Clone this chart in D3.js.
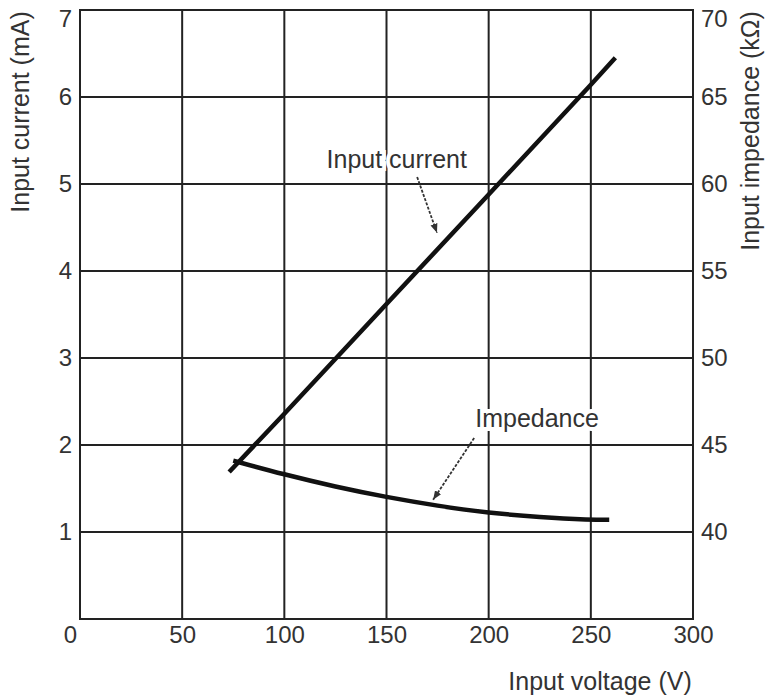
<!DOCTYPE html>
<html>
<head>
<meta charset="utf-8">
<script src="https://cdn.jsdelivr.net/npm/d3@7"></script>
<style>
  body { margin: 0; background: #fff; }
  svg text { font-family: "Liberation Sans", Arial, sans-serif; fill: #333; }
</style>
</head>
<body>
<svg width="765" height="699"></svg>
<script>
// chart data
var xTicks = [0, 50, 100, 150, 200, 250, 300];
var yTicks = [1, 2, 3, 4, 5, 6, 7];
var rTicks = [40, 45, 50, 55, 60, 65, 70];

var currentV = [73, 100, 150, 200, 250, 262];
var currentMA = [1.69, 2.36, 3.62, 4.88, 6.14, 6.45];

var impV = [75, 100, 125, 150, 175, 200, 225, 250, 259];
var impK = [44.1, 43.3, 42.6, 42.0, 41.5, 41.1, 40.85, 40.7, 40.7];

var svg = d3.select("svg"),
    margin = {top: 10, right: 72, bottom: 80, left: 80},
    width = svg.attr("width") - margin.left - margin.right,
    height = svg.attr("height") - margin.top - margin.bottom;

var x = d3.scaleLinear().domain([0, 300]).range([0, width]);
var y = d3.scaleLinear().domain([0, 7]).range([height, 0]);
var yR = d3.scaleLinear().domain([35, 70]).range([height, 0]);

var g = svg.append("g")
    .attr("transform", "translate(" + margin.left + "," + margin.top + ")");

// grid
g.append("g").selectAll("line").data(xTicks.slice(1, -1)).enter().append("line")
    .attr("x1", function(d) { return x(d); }).attr("x2", function(d) { return x(d); })
    .attr("y1", 0).attr("y2", height)
    .attr("stroke", "#222").attr("stroke-width", 2);

g.append("g").selectAll("line").data(yTicks.slice(0, -1)).enter().append("line")
    .attr("y1", function(d) { return y(d); }).attr("y2", function(d) { return y(d); })
    .attr("x1", 0).attr("x2", width)
    .attr("stroke", "#222").attr("stroke-width", 2);

g.append("rect")
    .attr("width", width).attr("height", height)
    .attr("fill", "none").attr("stroke", "#222").attr("stroke-width", 2);

// axes (labels only)
var xAxis = g.append("g")
    .attr("transform", "translate(0," + height + ")")
    .call(d3.axisBottom(x).tickValues(xTicks).tickSize(0).tickPadding(7).tickFormat(d3.format("d")));
xAxis.selectAll("text").filter(function(d) { return d === 0; }).attr("dx", -10);

var yAxis = g.append("g")
    .call(d3.axisLeft(y).tickValues(yTicks).tickSize(0).tickPadding(8).tickFormat(d3.format("d")));

var rAxis = g.append("g")
    .attr("transform", "translate(" + width + ",0)")
    .call(d3.axisRight(yR).tickValues(rTicks).tickSize(0).tickPadding(8).tickFormat(d3.format("d")));

[xAxis, yAxis, rAxis].forEach(function(a) {
  a.select(".domain").remove();
  a.selectAll("text").attr("font-size", 24).style("font-family", "'Liberation Sans', Arial, sans-serif").attr("fill", "#333");
});
// top labels sit a little lower so they are not cut off
yAxis.selectAll("text").filter(function(d) { return d === 7; }).attr("y", 9);
rAxis.selectAll("text").filter(function(d) { return d === 70; }).attr("y", 9);

// curves
var currentLine = d3.line()
    .x(function(d, i) { return x(currentV[i]); })
    .y(function(d) { return y(d); });

g.append("path")
    .datum(currentMA)
    .attr("d", currentLine)
    .attr("fill", "none").attr("stroke", "#111").attr("stroke-width", 4.5);

var impLine = d3.line()
    .curve(d3.curveBasis)
    .x(function(d, i) { return x(impV[i]); })
    .y(function(d) { return yR(d); });

g.append("path")
    .datum(impK)
    .attr("d", impLine)
    .attr("fill", "none").attr("stroke", "#111").attr("stroke-width", 4.5);

// annotations
svg.append("defs").append("marker")
    .attr("id", "arrow")
    .attr("viewBox", "0 0 10 10")
    .attr("refX", 10).attr("refY", 5)
    .attr("markerWidth", 5).attr("markerHeight", 5)
    .attr("markerUnits", "strokeWidth")
    .attr("orient", "auto")
  .append("path")
    .attr("d", "M0,1L10,5L0,9Z")
    .attr("fill", "#333");

var notes = [
  {text: "Input current", tx: 155, ty: 5.28, x1: 165, y1: 5.08, x2: 174.7, y2: 4.44},
  {text: "Impedance", tx: 223.7, ty: 2.31, x1: 192.9, y1: 2.08, x2: 172.8, y2: 1.37}
];

notes.forEach(function(n) {
  g.append("text")
      .attr("x", x(n.tx)).attr("y", y(n.ty))
      .attr("text-anchor", "middle").attr("dy", "0.35em")
      .attr("font-size", 25)
      .attr("stroke", "#fff").attr("stroke-width", 8)
      .attr("paint-order", "stroke")
      .text(n.text);
  g.append("line")
      .attr("x1", x(n.x1)).attr("y1", y(n.y1))
      .attr("x2", x(n.x2)).attr("y2", y(n.y2))
      .attr("stroke", "#333").attr("stroke-width", 1.8)
      .attr("stroke-dasharray", "3,1.5")
      .attr("marker-end", "url(#arrow)");
});

// axis titles
svg.append("text")
    .attr("transform", "translate(20,112) rotate(-90)")
    .attr("text-anchor", "middle").attr("dy", "0.35em")
    .attr("font-size", 25)
    .text("Input current (mA)");

svg.append("text")
    .attr("transform", "translate(750,131) rotate(-90)")
    .attr("text-anchor", "middle").attr("dy", "0.35em")
    .attr("font-size", 25)
    .text("Input impedance (kΩ)");

svg.append("text")
    .attr("x", 600).attr("y", 681)
    .attr("text-anchor", "middle").attr("dy", "0.35em")
    .attr("font-size", 25)
    .text("Input voltage (V)");
</script>
</body>
</html>
